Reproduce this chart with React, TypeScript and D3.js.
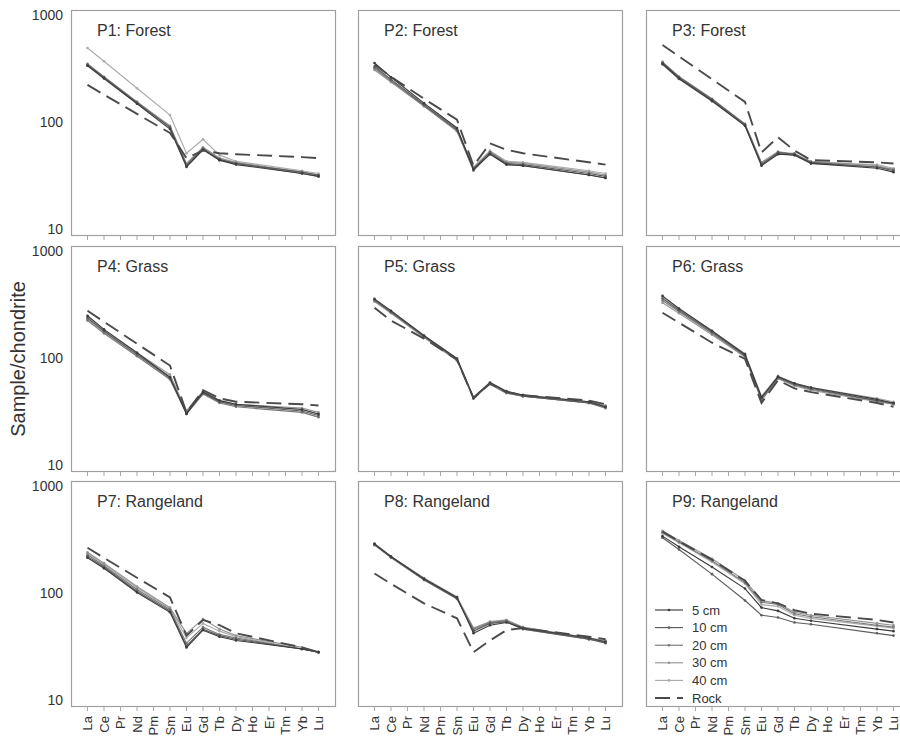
import React from "react";
import * as d3 from "d3";

// Rare earth elements on the x axis
const ELEMENTS = ["La", "Ce", "Pr", "Nd", "Pm", "Sm", "Eu", "Gd", "Tb", "Dy", "Ho", "Er", "Tm", "Yb", "Lu"];
// Elements actually analysed (positions in ELEMENTS)
const MEASURED = ["La", "Ce", "Nd", "Sm", "Eu", "Gd", "Tb", "Dy", "Yb", "Lu"];

const SERIES = ["5 cm", "10 cm", "20 cm", "30 cm", "40 cm", "Rock"];
const PANEL_TITLES = [
  "P1: Forest", "P2: Forest", "P3: Forest",
  "P4: Grass", "P5: Grass", "P6: Grass",
  "P7: Rangeland", "P8: Rangeland", "P9: Rangeland",
];
const Y_TICKS = [10, 100, 1000];

// Chondrite-normalised values, one row per series (5, 10, 20, 30, 40 cm, Rock)
const P1 = [
  [335, 255, 148, 86, 38, 55, 44, 40, 33, 31],
  [345, 262, 152, 89, 39, 56, 45, 41, 34, 32],
  [340, 258, 150, 90, 40, 57, 44, 41, 33, 31],
  [350, 265, 155, 92, 41, 58, 46, 42, 34, 32],
  [492, 370, 207, 116, 51, 69, 49, 43, 35, 33],
  [222, 180, 119, 79, 46, 54, 51, 50, 47, 46],
];
const P2 = [
  [356, 262, 150, 88, 36, 50, 40, 39, 32, 30],
  [330, 250, 145, 85, 37, 52, 41, 40, 33, 31],
  [318, 242, 142, 83, 35, 51, 40, 39, 32, 30],
  [306, 236, 140, 82, 36, 53, 42, 41, 34, 32],
  [322, 246, 146, 86, 38, 54, 43, 42, 35, 33],
  [345, 265, 165, 105, 39, 63, 55, 51, 42, 40],
];
const P3 = [
  [350, 255, 158, 92, 39, 50, 49, 41, 37, 34],
  [360, 262, 163, 95, 40, 52, 50, 42, 38, 35],
  [345, 252, 156, 93, 41, 51, 51, 41, 38, 36],
  [365, 266, 165, 96, 42, 53, 50, 43, 39, 36],
  [355, 258, 160, 94, 40, 51, 49, 42, 40, 37],
  [525, 410, 251, 154, 52, 72, 54, 44, 42, 41],
];
const P4 = [
  [248, 185, 112, 66, 30, 48, 40, 37, 33, 30],
  [236, 178, 108, 65, 31, 47, 39, 36, 32, 29],
  [224, 170, 104, 63, 30, 46, 38, 35, 31, 28],
  [240, 182, 112, 70, 32, 49, 40, 37, 34, 31],
  [230, 175, 107, 68, 31, 48, 39, 36, 33, 30],
  [276, 218, 136, 85, 31, 50, 42, 39, 37, 36],
];
const P5 = [
  [357, 276, 162, 99, 43, 59, 49, 45, 39, 35],
  [350, 270, 160, 97, 42, 58, 48, 44, 38, 35],
  [345, 268, 158, 96, 42, 57, 47, 44, 38, 34],
  [340, 265, 157, 95, 43, 58, 48, 45, 39, 36],
  [335, 262, 155, 94, 42, 57, 47, 44, 38, 35],
  [295, 224, 152, 97, 42, 58, 48, 45, 40, 37],
];
const P6 = [
  [381, 290, 180, 108, 43, 67, 58, 53, 41, 38],
  [360, 280, 175, 106, 42, 66, 57, 52, 40, 38],
  [345, 272, 170, 104, 40, 65, 56, 51, 40, 37],
  [328, 262, 165, 102, 41, 64, 55, 50, 39, 37],
  [370, 285, 178, 110, 44, 68, 58, 53, 42, 39],
  [265, 214, 139, 98, 38, 62, 52, 48, 38, 35],
];
const P7 = [
  [214, 170, 101, 66, 31, 45, 39, 36, 30, 28],
  [220, 175, 104, 68, 32, 46, 40, 37, 30, 28],
  [228, 180, 108, 70, 34, 48, 41, 38, 30, 28],
  [240, 190, 115, 73, 42, 57, 46, 40, 31, 28],
  [235, 186, 112, 72, 38, 52, 44, 39, 30, 28],
  [265, 213, 139, 91, 40, 56, 50, 42, 31, 28],
];
const P8 = [
  [288, 219, 136, 91, 42, 50, 53, 47, 38, 35],
  [284, 216, 134, 89, 44, 52, 54, 46, 37, 34],
  [280, 214, 132, 88, 46, 53, 55, 47, 37, 35],
  [290, 220, 138, 92, 47, 54, 56, 48, 38, 36],
  [285, 218, 135, 90, 45, 52, 54, 46, 37, 35],
  [152, 122, 80, 58, 28, 36, 45, 47, 39, 37],
];
const P9 = [
  [340, 270, 175, 110, 73, 68, 58, 55, 46, 44],
  [329, 255, 150, 85, 62, 59, 53, 51, 42, 40],
  [370, 300, 200, 125, 82, 78, 64, 60, 50, 48],
  [381, 309, 209, 131, 85, 80, 66, 62, 52, 50],
  [360, 295, 195, 122, 78, 75, 62, 58, 49, 47],
  [375, 305, 205, 130, 86, 80, 69, 64, 56, 53],
];
const PANELS = [P1, P2, P3, P4, P5, P6, P7, P8, P9];

// Layout
const COL_X = [71, 358, 646];
const ROW_Y = [10, 246, 481];
const PW = 264;
const PH = 225;
const SERIES_COLORS = ["#3c3c3c", "#5c5c5c", "#787878", "#959595", "#ababab", "#4a4a4a"];
const TEXT = "#333";
const FONT = "Liberation Sans, Arial, Helvetica, sans-serif";

const x = d3.scaleLinear().domain([-1, 15]).range([0, PW]);
const y = d3.scaleLog().domain([10, 1000]).range([219, 5]);

const line = d3
  .line<[number, number]>()
  .x((d) => x(d[0]))
  .y((d) => y(d[1]));

function Panel({ data, title, col, row }: { data: number[][]; title: string; col: number; row: number }) {
  const order = [4, 3, 2, 1, 0, 5];
  return (
    <g transform={`translate(${COL_X[col]},${ROW_Y[row]})`}>
      <rect x={0.5} y={0.5} width={PW} height={PH} fill="#fff" stroke="#a0a0a0" strokeWidth={1.2} />
      {ELEMENTS.map((el, i) => (
        <line key={el} x1={x(i)} x2={x(i)} y1={PH + 1} y2={PH + 5} stroke="#a8a8a8" strokeWidth={1} />
      ))}
      <text x={26} y={26} fontSize={16} fill={TEXT} fontFamily={FONT}>
        {title}
      </text>
      {order.map((s) => {
        const pts: [number, number][] = data[s].map((v, k) => [ELEMENTS.indexOf(MEASURED[k]), v]);
        const isRock = s === 5;
        return (
          <g key={s}>
            <path
              d={line(pts) || ""}
              fill="none"
              stroke={SERIES_COLORS[s]}
              strokeWidth={isRock ? 1.9 : 1.15}
              strokeDasharray={isRock ? "15,7" : undefined}
            />
            {!isRock &&
              pts.map((p, k) => (
                <circle key={k} cx={x(p[0])} cy={y(p[1])} r={1.3} fill={SERIES_COLORS[s]} />
              ))}
          </g>
        );
      })}
      {col === 0 &&
        Y_TICKS.map((t) => (
          <text key={t} x={-8} y={y(t)} dy="0.35em" textAnchor="end" fontSize={14} fill={TEXT} fontFamily={FONT}>
            {t}
          </text>
        ))}
      {row === 2 &&
        ELEMENTS.map((el, i) => (
          <text
            key={el}
            transform={`translate(${x(i)},${PH + 10}) rotate(-90)`}
            dy="0.35em"
            textAnchor="end"
            fontSize={13}
            fill={TEXT}
            fontFamily={FONT}
          >
            {el}
          </text>
        ))}
      {row === 2 && col === 2 &&
        SERIES.map((name, s) => {
          const ly = 129 + s * 17.6;
          return (
            <g key={name}>
              <line
                x1={9}
                x2={37}
                y1={ly}
                y2={ly}
                stroke={SERIES_COLORS[s]}
                strokeWidth={s === 5 ? 1.9 : 1.15}
                strokeDasharray={s === 5 ? "15,7" : undefined}
              />
              {s !== 5 && <circle cx={23} cy={ly} r={1.3} fill={SERIES_COLORS[s]} />}
              <text x={46} y={ly} dy="0.35em" fontSize={13} fill={TEXT} fontFamily={FONT}>
                {name}
              </text>
            </g>
          );
        })}
    </g>
  );
}

export default function App() {
  return (
    <svg
      width={900}
      height={738}
      style={{ position: "absolute", left: 0, top: 0, background: "#fff" }}
    >
      <rect width={900} height={738} fill="#fff" />
      {PANELS.map((data, i) => (
        <Panel key={i} data={data} title={PANEL_TITLES[i]} col={i % 3} row={Math.floor(i / 3)} />
      ))}
      <text
        transform="translate(18,359) rotate(-90)"
        dy="0.35em"
        textAnchor="middle"
        fontSize={20}
        fill={TEXT}
        fontFamily={FONT}
      >
        Sample/chondrite
      </text>
    </svg>
  );
}
